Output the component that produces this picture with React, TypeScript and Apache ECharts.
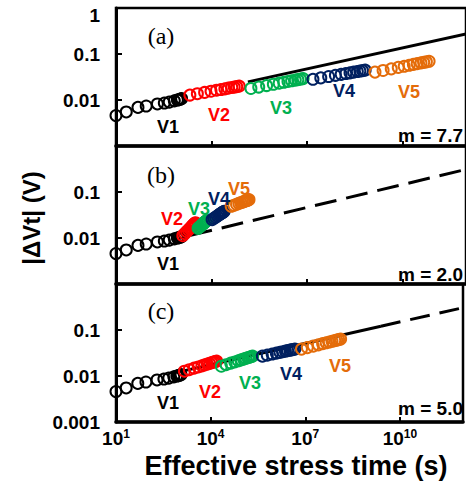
import React, { useEffect, useRef } from 'react';
import * as echarts from 'echarts';

// ---- data (time in s, |ΔVt| in V) ----
const v1Time = [10, 21, 49, 89, 200, 330, 470, 680, 850, 950, 1070, 1150];
const v1Shift = [0.0046, 0.0055, 0.0069, 0.0074, 0.0082, 0.0086, 0.009, 0.0096, 0.01, 0.0102, 0.0105, 0.0107];

// panel (a) m = 7.7
const aV2Time = [2.1e3, 3.6e3, 6.1e3, 9.7e3, 1.44e4, 1.98e4, 2.64e4, 3.38e4, 4.35e4, 5.19e4, 6.21e4, 7.41e4];
const aV2Shift = [0.0128, 0.0137, 0.0146, 0.0155, 0.0163, 0.0169, 0.0175, 0.0181, 0.0187, 0.0191, 0.0195, 0.02];
const aV3Time = [1.74e5, 3.06e5, 5.4e5, 8.81e5, 1.34e6, 1.88e6, 2.54e6, 3.3e6, 4.31e6, 5.2e6, 6.28e6, 7.59e6];
const aV3Shift = [0.0178, 0.0191, 0.0206, 0.022, 0.0232, 0.0243, 0.0253, 0.0262, 0.0271, 0.0277, 0.0284, 0.0292];
const aV4Time = [1.55e7, 2.73e7, 4.81e7, 7.85e7, 1.19e8, 1.67e8, 2.26e8, 2.94e8, 3.84e8, 4.63e8, 5.6e8, 6.76e8];
const aV4Shift = [0.0282, 0.0302, 0.0324, 0.0344, 0.0361, 0.0376, 0.039, 0.0403, 0.0416, 0.0426, 0.0436, 0.0446];
const aV5Time = [1.38e9, 2.48e9, 4.47e9, 7.43e9, 1.14e10, 1.63e10, 2.22e10, 2.92e10, 3.85e10, 4.68e10, 5.69e10, 6.92e10];
const aV5Shift = [0.0404, 0.0438, 0.0475, 0.0511, 0.0541, 0.0569, 0.0594, 0.0617, 0.0641, 0.0658, 0.0676, 0.0695];
const fitATime = [1.4e5, 1e12];
const fitAShift = [0.0248, 0.274];

// panel (b) m = 2.0
const bV2Time = [1259, 1445, 1660, 1871, 2070, 2249, 2421, 2582, 2754, 2884, 3020, 3162];
const bV2Shift = [0.0112, 0.0124, 0.0137, 0.0149, 0.016, 0.0169, 0.0178, 0.0187, 0.0195, 0.0202, 0.0208, 0.0215];
const bV3Time = [3802, 4169, 4581, 4966, 5321, 5623, 5916, 6180, 6457, 6653, 6871, 7079];
const bV3Shift = [0.0162, 0.0172, 0.0182, 0.0192, 0.02, 0.0208, 0.0214, 0.022, 0.0226, 0.0231, 0.0235, 0.024];
const bV4Time = [10470, 11940, 13610, 15240, 16790, 18160, 19500, 20700, 22030, 23010, 24040, 25120];
const bV4Shift = [0.0251, 0.0267, 0.0284, 0.03, 0.0314, 0.0326, 0.0337, 0.0347, 0.0357, 0.0365, 0.0372, 0.038];
const bV5Time = [41690, 50580, 61380, 72610, 83560, 93970, 104200, 114000, 124700, 133000, 141900, 151400];
const bV5Shift = [0.049, 0.0514, 0.0541, 0.0564, 0.0585, 0.0603, 0.0619, 0.0634, 0.0649, 0.0659, 0.067, 0.0681];
const fitBTime = [2.2e3, 1e12];
const fitBShift = [0.0114, 0.31];

// panel (c) m = 5.0
const cV2Time = [1479, 2104, 2992, 4064, 5260, 6501, 7834, 9247, 10890, 12250, 13770, 15490];
const cV2Shift = [0.0127, 0.0137, 0.0148, 0.0157, 0.0166, 0.0174, 0.0182, 0.0188, 0.0195, 0.02, 0.0205, 0.021];
const cV3Time = [21880, 30830, 43350, 58340, 74990, 92040, 110400, 129400, 152100, 170200, 191000, 213800];
const cV3Shift = [0.0163, 0.0176, 0.019, 0.0202, 0.0214, 0.0224, 0.0233, 0.0242, 0.025, 0.0256, 0.0263, 0.027];
const cV4Time = [4.37e5, 6.24e5, 8.89e5, 1.21e6, 1.57e6, 1.95e6, 2.35e6, 2.77e6, 3.28e6, 3.69e6, 4.16e6, 4.68e6];
const cV4Shift = [0.027, 0.0284, 0.03, 0.0314, 0.0327, 0.0337, 0.0347, 0.0355, 0.0364, 0.0371, 0.0377, 0.0384];
const cV5Time = [7.59e6, 1.16e7, 1.79e7, 2.59e7, 3.55e7, 4.58e7, 5.75e7, 7.03e7, 8.59e7, 9.91e7, 1.14e8, 1.32e8];
const cV5Shift = [0.0384, 0.0414, 0.0447, 0.0476, 0.0504, 0.0527, 0.0548, 0.0569, 0.0589, 0.0604, 0.0619, 0.0635];
const fitCSolidTime = [1e3, 2.5e9];
const fitCSolidShift = [0.0123, 0.121];
const fitCDashTime = [2.5e9, 1e12];
const fitCDashShift = [0.121, 0.305];

// ticks / labels
const xTickExp = [1, 4, 7, 10];
const yTickExp = [0, -1, -2, -3];
const yTickText = ['1', '0.1', '0.01', '0.001'];
const yShownPerPanel = [[-1, -2], [-1, -2], [-1, -2, -3]];
const levelNames = ['V1', 'V2', 'V3', 'V4', 'V5'];
const panelNames = ['(a)', '(b)', '(c)'];
const mValues = ['7.7', '2.0', '5.0'];

const COLORS = ['#000000', '#ff0000', '#00b050', '#002060', '#e46c0a'];
const SANS = '"Liberation Sans", Arial, sans-serif';
const SERIF = '"Liberation Serif", "Times New Roman", serif';

const lg = Math.log10;
const pairs = (t: number[], v: number[]) => t.map((x, i) => [lg(x), lg(v[i])]);

const panels = [
  { levels: [[v1Time, v1Shift], [aV2Time, aV2Shift], [aV3Time, aV3Shift], [aV4Time, aV4Shift], [aV5Time, aV5Shift]],
    lines: [{ t: fitATime, v: fitAShift, dash: 'solid' as any }] },
  { levels: [[v1Time, v1Shift], [bV2Time, bV2Shift], [bV3Time, bV3Shift], [bV4Time, bV4Shift], [bV5Time, bV5Shift]],
    lines: [{ t: fitBTime, v: fitBShift, dash: [22, 10] as any }] },
  { levels: [[v1Time, v1Shift], [cV2Time, cV2Shift], [cV3Time, cV3Shift], [cV4Time, cV4Shift], [cV5Time, cV5Shift]],
    lines: [{ t: fitCSolidTime, v: fitCSolidShift, dash: 'solid' as any }, { t: fitCDashTime, v: fitCDashShift, dash: [20, 10] as any }] },
];

// annotation placement (pixels)
const TOPS = [8, 146, 284];
const vLabelPos = [
  [[168, 127], [219, 115], [281, 108], [344, 91], [409, 92]],
  [[168, 264], [172, 219], [199, 209], [219, 199], [239, 189]],
  [[168, 403], [210, 392], [250, 383], [291, 374], [340, 366]],
];
const panelLabelY = [36, 175, 311];
const mLabelY = [135, 274, 408];

export default function App() {
  const ref = useRef<HTMLDivElement>(null);
  useEffect(() => {
    const chart = echarts.init(ref.current!, null, { renderer: 'svg' });
    const grids = TOPS.map((top) => ({
      left: 116, right: -5, top, height: 138, show: true,
      borderColor: '#000', borderWidth: 2.5, backgroundColor: 'transparent',
    }));
    const xAxes = TOPS.map((_, i) => ({
      type: 'value', gridIndex: i, min: 1, max: 12, interval: 3,
      axisLine: { show: true, onZero: false, lineStyle: { color: '#000', width: 3.5 } },
      axisTick: { show: true, inside: true, length: 5, lineStyle: { color: '#000', width: 2 } },
      splitLine: { show: false },
      axisLabel: i === 2 ? {
        show: true, margin: 6, showMinLabel: true, showMaxLabel: true,
        formatter: (v: number) => (xTickExp.includes(v) ? `{b|10}{s|${v}}` : ''),
        rich: {
          b: { fontSize: 19, fontWeight: 'bold', fontFamily: SANS, color: '#000', lineHeight: 20, verticalAlign: 'bottom' },
          s: { fontSize: 12, fontWeight: 'bold', fontFamily: SANS, color: '#000', lineHeight: 8, verticalAlign: 'top' },
        },
      } : { show: false },
    }));
    const yAxes = TOPS.map((_, i) => ({
      type: 'value', gridIndex: i, min: -3, max: 0, interval: 1,
      axisLine: { show: true, onZero: false, lineStyle: { color: '#000', width: 3 } },
      axisTick: { show: true, inside: true, length: 6, lineStyle: { color: '#000', width: 2 } },
      splitLine: { show: false },
      axisLabel: {
        show: true, margin: 16, showMinLabel: true, showMaxLabel: true,
        fontSize: 19, fontWeight: 'bold', fontFamily: SANS, color: '#000',
        formatter: (v: number) => (yShownPerPanel[i].includes(v) ? yTickText[yTickExp.indexOf(v)] : ''),
      },
    }));
    const series: any[] = [];
    panels.forEach((p, i) => {
      p.lines.forEach((l) => {
        series.push({
          type: 'line', xAxisIndex: i, yAxisIndex: i, data: pairs(l.t, l.v),
          symbol: 'none', silent: true, z: 1,
          lineStyle: { color: '#000', width: 3, type: l.dash },
        });
      });
      p.levels.forEach(([t, v], k) => {
        series.push({
          type: 'scatter', xAxisIndex: i, yAxisIndex: i, data: pairs(t as number[], v as number[]),
          symbol: 'circle', symbolSize: 11, silent: true, z: 3,
          itemStyle: { color: 'rgba(0,0,0,0)', borderColor: COLORS[k], borderWidth: 2, opacity: 1 },
        });
      });
    });
    const txt = (text: string, x: number, y: number, font: string, fill: string, align = 'center', rotation = 0) => ({
      type: 'text', x, y, rotation, z: 10, silent: true,
      style: { text, fill, font, align, verticalAlign: 'middle', textAlign: align, textVerticalAlign: 'middle' },
    });
    const graphics: any[] = [];
    graphics.push(txt('1', 100, 15, `bold 19px ${SANS}`, '#000', 'right'));
    panelNames.forEach((n, i) => graphics.push(txt(n, 161, panelLabelY[i], `24px ${SERIF}`, '#000')));
    vLabelPos.forEach((row, i) => row.forEach(([x, y], k) => graphics.push(txt(levelNames[k], x, y, `bold 18px ${SANS}`, COLORS[k]))));
    mValues.forEach((m, i) => graphics.push(txt(`m = ${m}`, 463, mLabelY[i], `bold 19px ${SANS}`, '#000', 'right')));
    graphics.push(txt('|ΔVt| (V)', 31, 218, `bold 24px ${SANS}`, '#000', 'center', Math.PI / 2));
    graphics.push(txt('Effective stress time (s)', 296, 466, `bold 27px ${SANS}`, '#000'));

    chart.setOption({
      animation: false,
      backgroundColor: '#fff',
      grid: grids,
      xAxis: xAxes,
      yAxis: yAxes,
      series,
      graphic: { elements: graphics },
    } as any);
    return () => chart.dispose();
  }, []);
  return <div ref={ref} style={{ position: 'absolute', left: 0, top: 0, width: 466, height: 483 }} />;
}
